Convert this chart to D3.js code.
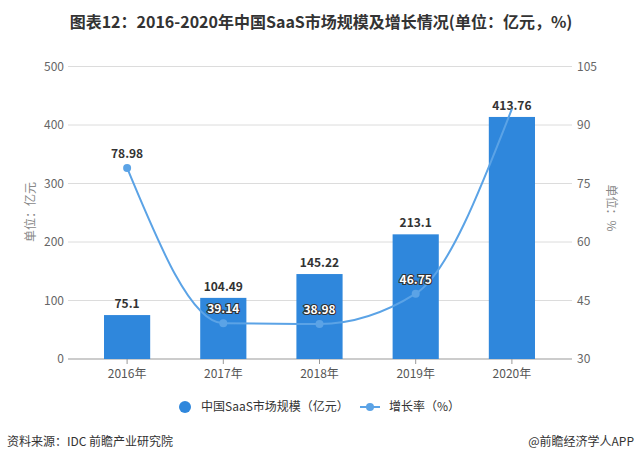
<!DOCTYPE html>
<html>
<head>
<meta charset="utf-8">
<script src="https://cdn.jsdelivr.net/npm/d3@7"></script>
<style>
  body { margin: 0; background: #fff; font-family: "Microsoft YaHei", "Noto Sans CJK SC", sans-serif; }
  svg text { font-family: "Noto Sans CJK SC", "DejaVu Sans", sans-serif; }
</style>
</head>
<body>
<script>
let years = ["2016年", "2017年", "2018年", "2019年", "2020年"]
let marketSize = [75.1, 104.49, 145.22, 213.1, 413.76]
let growthRate = [78.98, 39.14, 38.98, 46.75, 94.16]
let growthLabels = ["78.98", "39.14", "38.98", "46.75", null]
let leftTicks = [0, 100, 200, 300, 400, 500]
let rightTicks = [30, 45, 60, 75, 90, 105]

const width = 640
const height = 462
const barColor = "#2f87dc"
const lineColor = "#5ba3e6"

let svg = d3.select("body").append("svg")
    .attr("width", width).attr("height", height)

// title
svg.append("text")
    .attr("x", 321).attr("y", 28)
    .attr("text-anchor", "middle")
    .attr("font-size", 16).attr("font-weight", "bold").attr("fill", "#333")
    .text("图表12：2016-2020年中国SaaS市场规模及增长情况(单位：亿元，%)")

let x = d3.scaleBand().domain(years).range([79, 560]).paddingInner(0.52).paddingOuter(0.26)
let yLeft = d3.scaleLinear().domain([0, 500]).range([359, 66.5])
let yRight = d3.scaleLinear().domain([30, 105]).range([359, 66.5])

// grid lines
svg.append("g").selectAll("line")
    .data(leftTicks.slice(1))
    .enter().append("line")
    .attr("x1", 68).attr("x2", 572)
    .attr("y1", d => yLeft(d)).attr("y2", d => yLeft(d))
    .attr("stroke", "#dcdcdc").attr("stroke-width", 1)

// left tick labels
svg.append("g").selectAll("text")
    .data(leftTicks)
    .enter().append("text")
    .attr("x", 64).attr("y", d => yLeft(d) + 4)
    .attr("text-anchor", "end")
    .attr("font-size", 12).attr("fill", "#666")
    .text(d => d)

// right tick labels
svg.append("g").selectAll("text")
    .data(rightTicks)
    .enter().append("text")
    .attr("x", 577).attr("y", d => yRight(d) + 4)
    .attr("font-size", 12).attr("fill", "#666")
    .text(d => d)

// axis titles
svg.append("text")
    .attr("transform", "translate(35,212) rotate(-90)")
    .attr("text-anchor", "middle")
    .attr("font-size", 12).attr("fill", "#888")
    .text("单位：亿元")
svg.append("text")
    .attr("transform", "translate(607,208) rotate(90)")
    .attr("text-anchor", "middle")
    .attr("font-size", 12).attr("fill", "#888")
    .text("单位：%")

// x axis
let xAxis = svg.append("g")
    .attr("transform", "translate(0,359)")
    .call(d3.axisBottom(x).tickSize(5).tickPadding(5))
xAxis.select(".domain").attr("stroke", "#999").attr("d", "M68,0H572")
xAxis.selectAll(".tick line").attr("stroke", "#999")
xAxis.selectAll(".tick text").attr("font-size", 12).attr("fill", "#555")
    .style("font-family", "'Noto Sans CJK SC', sans-serif")

// bars
svg.append("g").selectAll("rect")
    .data(marketSize)
    .enter().append("rect")
    .attr("x", (d, i) => x(years[i]))
    .attr("y", d => yLeft(d))
    .attr("width", x.bandwidth())
    .attr("height", d => yLeft(0) - yLeft(d))
    .attr("fill", barColor)

svg.append("g").selectAll("text")
    .data(marketSize)
    .enter().append("text")
    .attr("x", (d, i) => x(years[i]) + x.bandwidth() / 2)
    .attr("y", d => yLeft(d) - 7)
    .attr("text-anchor", "middle")
    .attr("font-size", 12).attr("font-weight", "bold").attr("fill", "#333")
    .text(d => d)

// growth line
let line = d3.line()
    .x((d, i) => x(years[i]) + x.bandwidth() / 2)
    .y(d => yRight(d))
    .curve(d3.curveMonotoneX)

svg.append("path")
    .datum(growthRate)
    .attr("d", line)
    .attr("fill", "none")
    .attr("stroke", lineColor).attr("stroke-width", 2)

svg.append("g").selectAll("circle")
    .data(growthRate.slice(0, 4))
    .enter().append("circle")
    .attr("cx", (d, i) => x(years[i]) + x.bandwidth() / 2)
    .attr("cy", d => yRight(d))
    .attr("r", 4)
    .attr("fill", lineColor)

// growth labels, outlined when they sit on a bar
svg.append("g").selectAll("text")
    .data(growthRate)
    .enter().append("text")
    .filter((d, i) => growthLabels[i] != null)
    .attr("x", (d, i) => x(years[i]) + x.bandwidth() / 2)
    .attr("y", d => yRight(d) - 10)
    .attr("text-anchor", "middle")
    .attr("font-size", 12).attr("font-weight", "bold")
    .attr("fill", (d, i) => yRight(d) - 10 > yLeft(marketSize[i]) ? "#fff" : "#333")
    .attr("stroke", (d, i) => yRight(d) - 10 > yLeft(marketSize[i]) ? "#333" : "none")
    .attr("stroke-width", 2.2)
    .attr("paint-order", "stroke")
    .text((d, i) => growthLabels[i])

// legend
let legend = svg.append("g")
legend.append("circle").attr("cx", 185).attr("cy", 407).attr("r", 6).attr("fill", barColor)
legend.append("text").attr("x", 201).attr("y", 411)
    .attr("font-size", 12).attr("fill", "#333")
    .text("中国SaaS市场规模（亿元）")
legend.append("line").attr("x1", 360).attr("x2", 380).attr("y1", 407).attr("y2", 407)
    .attr("stroke", lineColor).attr("stroke-width", 2)
legend.append("circle").attr("cx", 370).attr("cy", 407).attr("r", 4).attr("fill", lineColor)
legend.append("text").attr("x", 389).attr("y", 411)
    .attr("font-size", 12).attr("fill", "#333")
    .text("增长率（%）")

// footer
svg.append("text")
    .attr("x", 7).attr("y", 446)
    .attr("font-size", 12).attr("fill", "#333")
    .text("资料来源：IDC 前瞻产业研究院")
svg.append("text")
    .attr("x", 634).attr("y", 446)
    .attr("text-anchor", "end")
    .attr("font-size", 12).attr("fill", "#333")
    .text("@前瞻经济学人APP")
</script>
</body>
</html>
